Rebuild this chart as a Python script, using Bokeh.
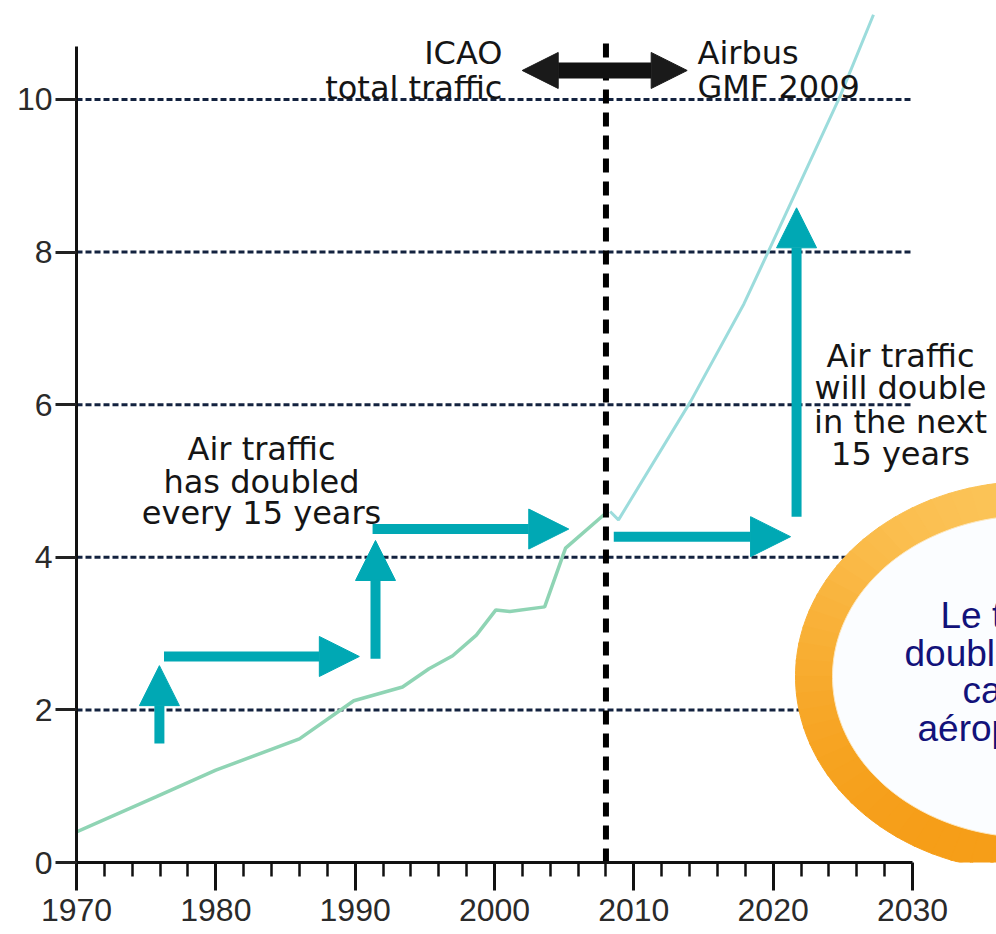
import numpy as np
from bokeh.plotting import figure
from bokeh.models import Range1d, FixedTicker, Arrow, NormalHead, ColumnDataSource
from bokeh.core.properties import value
from bokeh.embed import file_html
from bokeh.resources import INLINE

# ---------------- data ----------------
years_hist = [1970.0, 1975.7, 1980.0, 1986.0, 1989.9, 1993.4, 1995.3, 1997.0,
              1998.7, 2000.1, 2001.1, 2003.6, 2005.1, 2008.0]
traffic_hist = [0.40, 0.86, 1.21, 1.62, 2.12, 2.30, 2.54, 2.71,
                2.98, 3.31, 3.29, 3.35, 4.12, 4.58]

years_fcst = [2008.3, 2008.9, 2014.1, 2017.9, 2020.3, 2024.8, 2027.2]
traffic_fcst = [4.60, 4.49, 6.05, 7.32, 8.26, 10.04, 11.11]

split_year = 2008

x_ticks = [1970, 1980, 1990, 2000, 2010, 2020, 2030]
x_tick_labels = ["1970", "1980", "1990", "2000", "2010", "2020", "2030"]
x_minor_ticks = [1972, 1974, 1976, 1978, 1982, 1984, 1986, 1988, 1992, 1994,
                 1996, 1998, 2002, 2004, 2006, 2008, 2012, 2014, 2016, 2018,
                 2022, 2024, 2026, 2028]
y_ticks = [0, 2, 4, 6, 8, 10]
y_tick_labels = ["0", "2", "4", "6", "8", "10"]
grid_levels = [2, 4, 6, 8, 10]

# ---------------- styles ----------------
TEAL = "#00a8b4"
GREEN = "#8fd4b4"
CYAN = "#9cdcdc"
NAVY = "#13223f"
TXT = "#151515"
FONT = "DejaVu Sans"

p = figure(width=996, height=934, title=None,
           x_range=Range1d(1970, 2036.03), y_range=Range1d(0, 11.297),
           output_backend="svg", toolbar_location=None,
           min_border_left=76, min_border_right=0, min_border_top=0,
           min_border_bottom=72)
p.outline_line_color = None
p.xgrid.visible = False
p.ygrid.visible = False
p.background_fill_color = "white"
p.border_fill_color = "white"

# x axis
p.xaxis.ticker = FixedTicker(ticks=x_ticks, minor_ticks=x_minor_ticks)
p.xaxis.major_label_overrides = dict(zip(x_ticks, x_tick_labels))
p.xaxis.bounds = (x_ticks[0], x_ticks[-1])
p.xaxis.axis_line_width = 3
p.xaxis.axis_line_color = "#111111"
p.xaxis.major_tick_in = 0
p.xaxis.major_tick_out = 28
p.xaxis.major_tick_line_width = 3
p.xaxis.major_tick_line_color = "#111111"
p.xaxis.minor_tick_in = 0
p.xaxis.minor_tick_out = 14
p.xaxis.minor_tick_line_width = 2.5
p.xaxis.minor_tick_line_color = "#111111"
p.xaxis.major_label_standoff = 8
p.xaxis.major_label_text_font = "Liberation Sans"
p.xaxis.major_label_text_font_size = "32px"
p.xaxis.major_label_text_color = "#2a2a2a"

# y axis
p.yaxis.ticker = FixedTicker(ticks=y_ticks)
p.yaxis.major_label_overrides = dict(zip(y_ticks, y_tick_labels))
p.yaxis.bounds = (0, 10.7)
p.yaxis.axis_line_width = 3
p.yaxis.axis_line_color = "#111111"
p.yaxis.major_tick_in = 0
p.yaxis.major_tick_out = 21
p.yaxis.major_tick_line_width = 3
p.yaxis.major_tick_line_color = "#222222"
p.yaxis.minor_tick_line_color = None
p.yaxis.major_label_standoff = 3
p.yaxis.major_label_text_font = "Liberation Sans"
p.yaxis.major_label_text_font_size = "32px"
p.yaxis.major_label_text_color = "#2a2a2a"

# dashed horizontal grid lines (end at 2030)
p.segment(x0=[x_ticks[0]] * len(grid_levels), x1=[x_ticks[-1]] * len(grid_levels),
          y0=grid_levels, y1=grid_levels, line_color=NAVY, line_width=3,
          line_dash="6 3")

# traffic lines
p.line(years_hist, traffic_hist, line_color=GREEN, line_width=3.5)
p.line(years_fcst, traffic_fcst, line_color=CYAN, line_width=3)

# vertical split line
p.line([split_year, split_year], [0, 10.77], line_color="#000000",
       line_width=6, line_dash="14 9")

# orange ring (decoration), shaded light at the top, deeper orange below
ring_cx, ring_cy = 2038.47, 2.438
outer_a, outer_b, inner_a, inner_b = 16.866, 2.556, 14.211, 2.110
n_seg = 72
edges = np.linspace(0, 2 * np.pi, n_seg + 1)
light = np.array([252, 196, 88])
deep = np.array([246, 158, 24])
seg_x, seg_y, seg_c = [], [], []
for k in range(n_seg):
    th = np.linspace(edges[k], edges[k + 1] + 0.01, 6)
    xs = np.concatenate([ring_cx + outer_a * np.cos(th), ring_cx + inner_a * np.cos(th[::-1])])
    ys = np.concatenate([ring_cy + outer_b * np.sin(th), ring_cy + inner_b * np.sin(th[::-1])])
    mid = 0.5 * (edges[k] + edges[k + 1])
    t = 0.5 * (1 + np.sin(mid))          # 1 at top, 0 at bottom
    rgb = (deep + (light - deep) * t ** 1.5).astype(int)
    seg_x.append(xs)
    seg_y.append(ys)
    seg_c.append("#%02x%02x%02x" % tuple(rgb))
p.patches(seg_x, seg_y, fill_color=seg_c, line_color=seg_c, line_width=1)
th_all = np.linspace(0, 2 * np.pi, 240)
p.patch(ring_cx + inner_a * np.cos(th_all), ring_cy + inner_b * np.sin(th_all),
        fill_color="#fbfdff", line_color="#fde7bd", line_width=1)

# teal arrows
teal_arrows = [
    (1975.95, 1.56, 1975.95, 2.58),
    (1976.28, 2.70, 1990.30, 2.70),
    (1991.46, 2.67, 1991.46, 4.22),
    (1991.25, 4.37, 2005.33, 4.37),
    (2008.56, 4.27, 2021.25, 4.27),
    (2021.68, 4.53, 2021.68, 8.58),
]
for xs, ys, xe, ye in teal_arrows:
    p.add_layout(Arrow(x_start=xs, y_start=ys, x_end=xe, y_end=ye,
                       line_color=TEAL, line_width=10,
                       end=NormalHead(size=40, fill_color=TEAL,
                                      line_color=TEAL, line_width=1)))

# black double arrow
p.add_layout(Arrow(x_start=2001.99, y_start=10.38, x_end=2013.83, y_end=10.38,
                   line_color="#111111", line_width=16,
                   start=NormalHead(size=36, fill_color="#1a1a1a", line_color="#1a1a1a", line_width=1),
                   end=NormalHead(size=36, fill_color="#1a1a1a", line_color="#1a1a1a", line_width=1)))

# annotation texts
def add_text(xs, ys, texts, align, color=TXT, size="32px", font=FONT):
    src = ColumnDataSource(dict(x=xs, y=ys, t=texts))
    p.text(x="x", y="y", text="t", source=src, text_align=align,
           text_baseline="alphabetic", text_color=color,
           text_font=value(font), text_font_size=value(size))

add_text([1983.28] * 3, [5.422, 4.984, 4.574],
         ["Air traffic", "has doubled", "every 15 years"], "center")
add_text([2029.14] * 4, [6.632, 6.225, 5.771, 5.360],
         ["Air traffic", "will double", "in the next", "15 years"], "center")
add_text([2000.57] * 2, [10.603, 10.144], ["ICAO", "total traffic"], "right")
add_text([2014.57] * 2, [10.603, 10.157], ["Airbus", "GMF 2009"], "left")
add_text([2032.01, 2029.43, 2033.59, 2030.36], [3.237, 2.739, 2.254, 1.756],
         ["Le trafic", "doublera d'ici", "capacité", "aéroportuaire"], "left",
         color="#12127a", size="37px", font="Liberation Sans")

open("out.html", "w").write(file_html(p, INLINE))
